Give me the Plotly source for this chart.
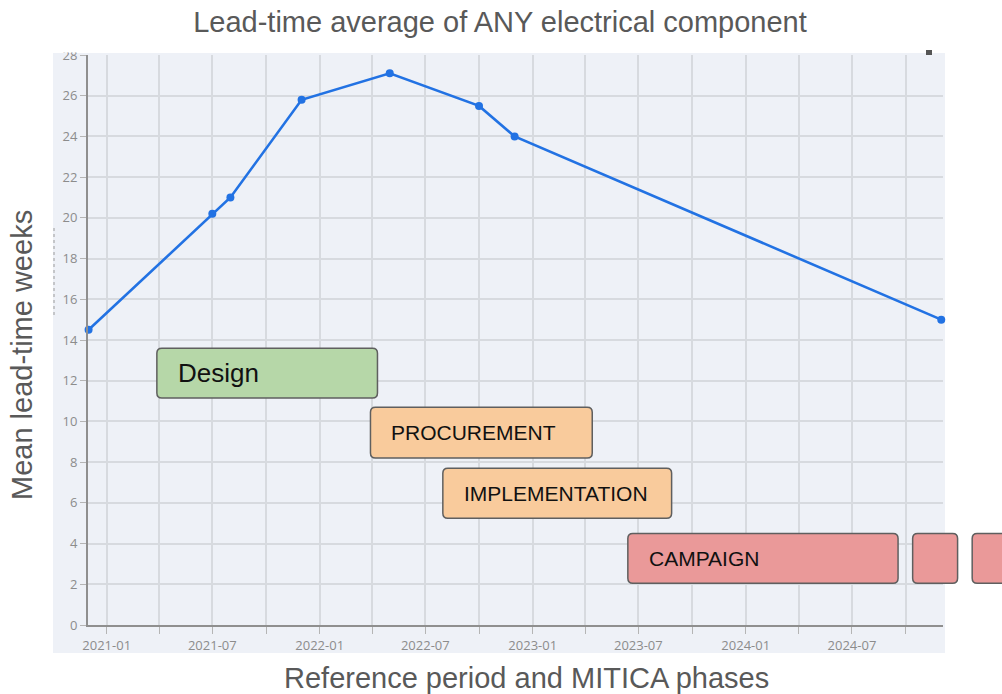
import datetime as dt
import plotly.graph_objects as go

# ---------------- data ----------------
dates = ["2020-12-01", "2021-07-01", "2021-08-01", "2021-12-01",
         "2022-05-01", "2022-10-01", "2022-12-01", "2024-12-01"]
lead_weeks = [14.5, 20.2, 21.0, 25.8, 27.1, 25.5, 24.0, 15.0]

phase_labels = ["Design", "PROCUREMENT", "IMPLEMENTATION", "CAMPAIGN", "", ""]
phase_start = ["2021-03-28", "2022-03-29", "2022-07-31", "2023-06-13", "2024-10-13", "2025-01-23"]
phase_end = ["2022-04-10", "2023-04-13", "2023-08-27", "2024-09-18", "2024-12-29", "2025-04-30"]
phase_top = [13.6, 10.7, 7.7, 4.5, 4.5, 4.5]
phase_bottom = [11.15, 8.2, 5.25, 2.05, 2.05, 2.05]
phase_colors = ["#B6D7A8", "#F9CB9C", "#F9CB9C", "#EA9999", "#EA9999", "#EA9999"]
phase_font = [26, 21, 21, 21, 21, 21]

x_range = ["2020-11-30", "2024-12-04"]
y_range = [0, 28]

# ---------------- layout geometry ----------------
W, H = 1002, 694
ML, MR, MT, MB = 88, 59, 55, 69
PW, PH = W - ML - MR, H - MT - MB

def _d(s):
    return dt.date.fromisoformat(s)

def xpaper(s):
    a, b = _d(x_range[0]), _d(x_range[1])
    return (_d(s) - a).days / (b - a).days

def ypaper(v):
    return (v - y_range[0]) / (y_range[1] - y_range[0])

def px2paper(px, py):
    return (px - ML) / PW, (H - MB - py) / PH

def rounded_path(x0, x1, y0, y1, r_px=5):
    rx, ry = r_px / PW, r_px / PH
    return (f"M {x0+rx},{y1} L {x1-rx},{y1} Q {x1},{y1} {x1},{y1-ry} "
            f"L {x1},{y0+ry} Q {x1},{y0} {x1-rx},{y0} L {x0+rx},{y0} "
            f"Q {x0},{y0} {x0},{y0+ry} L {x0},{y1-ry} Q {x0},{y1} {x0+rx},{y1} Z")

BG = "#EEF1F7"
GRID = "#D7DADF"
TEXT_GREY = "#595959"

fig = go.Figure()
fig.add_trace(go.Scatter(
    x=dates, y=lead_weeks, mode="lines+markers",
    line=dict(color="#2272E3", width=2.6),
    marker=dict(color="#2272E3", size=8),
    cliponaxis=False, showlegend=False,
))

shapes = []
# card background behind the chart
cx0, cy0 = px2paper(53, 653)
cx1, cy1 = px2paper(945, 53)
shapes.append(dict(type="rect", xref="paper", yref="paper", x0=cx0, x1=cx1, y0=cy0, y1=cy1,
                   fillcolor=BG, line=dict(width=0), layer="below"))
# white crop above the card
_, wy = px2paper(0, 52.5)
shapes.append(dict(type="rect", xref="paper", yref="paper", x0=-1, x1=2, y0=wy, y1=2,
                   fillcolor="white", line=dict(width=0), layer="above"))
# small dark dot top-right
dx0, dy0 = px2paper(926, 55)
dx1, dy1 = px2paper(932, 50)
shapes.append(dict(type="rect", xref="paper", yref="paper", x0=dx0, x1=dx1, y0=dy0, y1=dy1,
                   fillcolor="#555555", line=dict(width=0), layer="above"))
# faint dashed edge on the left
lx, ly0 = px2paper(54, 315)
_, ly1 = px2paper(54, 228)
shapes.append(dict(type="line", xref="paper", yref="paper", x0=lx, x1=lx, y0=ly0, y1=ly1,
                   line=dict(color="#9A9A9A", width=1, dash="dot"), layer="above"))

annotations = []
for lab, s, e, t, b, col, fs in zip(phase_labels, phase_start, phase_end,
                                     phase_top, phase_bottom, phase_colors, phase_font):
    x0, x1 = xpaper(s), xpaper(e)
    y0, y1 = ypaper(b), ypaper(t)
    shapes.append(dict(type="path", xref="paper", yref="paper",
                       path=rounded_path(x0, x1, y0, y1),
                       fillcolor=col, line=dict(color="#5F5F5F", width=1.5), layer="above"))
    if lab:
        annotations.append(dict(xref="paper", yref="paper", x=x0, y=(y0 + y1) / 2,
                                xanchor="left", yanchor="middle", xshift=19, showarrow=False,
                                text=lab, font=dict(family="Liberation Sans, Arial", size=fs,
                                                    color="#111111")))

# axis titles
tx, ty = px2paper(526, 678)
annotations.append(dict(xref="paper", yref="paper", x=tx, y=ty, xanchor="center", yanchor="middle",
                        showarrow=False, text="Reference period and MITICA phases",
                        font=dict(family="Liberation Sans, Arial", size=29, color=TEXT_GREY)))
yx, yy = px2paper(22, 355)
annotations.append(dict(xref="paper", yref="paper", x=yx, y=yy, xanchor="center", yanchor="middle",
                        showarrow=False, textangle=-90, text="Mean lead-time weeks",
                        font=dict(family="Liberation Sans, Arial", size=29, color=TEXT_GREY)))

tick_font = dict(family="Open Sans, sans-serif", size=13, color="#8C8C8C")

fig.update_layout(
    width=W, height=H, autosize=False,
    margin=dict(l=ML, r=MR, t=MT, b=MB),
    paper_bgcolor="white", plot_bgcolor=BG,
    title=dict(text="Lead-time average of ANY electrical component",
               x=0.499, xref="container", xanchor="center",
               y=1 - 22 / H, yref="container", yanchor="middle",
               font=dict(family="Liberation Sans, Arial", size=29, color=TEXT_GREY)),
    xaxis=dict(range=x_range, type="date", tick0="2021-01-01", dtick="M6", tickformat="%Y-%m",
               showgrid=True, gridcolor=GRID, gridwidth=1.5,
               ticks="outside", ticklen=7, tickcolor="#B5B5B5",
               minor=dict(dtick="M3", tick0="2021-01-01", showgrid=True, gridcolor=GRID, gridwidth=1.5,
                          ticks="outside", ticklen=7, tickcolor="#B5B5B5"),
               showline=True, linecolor="#8F8F8F", linewidth=2,
               zeroline=False, tickfont=tick_font, fixedrange=True),
    yaxis=dict(range=y_range, dtick=2, tick0=0,
               showgrid=True, gridcolor=GRID, gridwidth=1.5,
               ticks="outside", ticklen=6, tickcolor="#B5B5B5",
               showline=True, linecolor="#8F8F8F", linewidth=2,
               zeroline=False, tickfont=tick_font, fixedrange=True),
    shapes=shapes, annotations=annotations,
    showlegend=False,
)

fig.write_html("out.html", config={"displayModeBar": False},
               post_script="document.body.style.margin='0px';")
